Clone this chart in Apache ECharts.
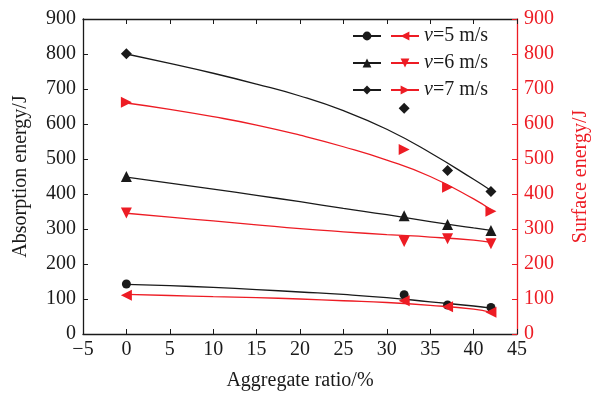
<!DOCTYPE html>
<html>
<head>
<meta charset="utf-8">
<script src="https://cdn.jsdelivr.net/npm/echarts@6/dist/echarts.min.js"></script>
<style>html,body{margin:0;padding:0;background:#fff}#c{width:599px;height:396px}</style>
</head>
<body>
<div id="c"></div>
<script>
// Measured points (aggregate ratio, %)
const xMarkers = [0, 32, 37, 42];
const absV5 = [143, 112, 83, 76];
const absV6 = [450, 338, 313, 296];
const absV7 = [801, 645, 467, 407];
const surfV5 = [111, 95, 78, 62];
const surfV6 = [346, 264, 272, 258];
const surfV7 = [662, 527, 419, 351];

// Fitted curves
const xFit = [0, 5, 10, 15, 20, 25, 30, 35, 40, 42];
const absFitV5 = [142, 138, 133, 127, 120, 113, 104, 92, 80, 74];
const absFitV6 = [448, 431, 414, 396, 378, 359, 341, 321, 303, 296];
const absFitV7 = [800, 773, 745, 714, 680, 638, 585, 518, 442, 410];
const surfFitV5 = [113, 110, 107, 104, 100, 95, 90, 82, 71, 62];
const surfFitV6 = [345, 334, 323, 312, 301, 292, 284, 277, 268, 262];
const surfFitV7 = [660, 642, 621, 597, 568, 535, 497, 450, 386, 355];

const speedLabels = ['5', '6', '7'];
const xTicks = {min: -5, max: 45, interval: 5};
const yTicks = {min: 0, max: 900, interval: 100};

const BLACK = '#1a1a1a';
const RED = '#ed1c24';
const FONT = '"Liberation Serif", "DejaVu Serif", serif';

const zip = (xs, ys) => xs.map((x, i) => [x, ys[i]]);

const symbolsAbs = [
  {symbol: 'circle', size: 9, rotate: 0},
  {symbol: 'triangle', size: 11, rotate: 0},
  {symbol: 'diamond', size: [11, 11], rotate: 0}
];
const symbolsSurf = [
  {symbol: 'triangle', size: 11, rotate: 90},
  {symbol: 'triangle', size: 11, rotate: 180},
  {symbol: 'triangle', size: 11, rotate: -90}
];

const absFits = [absFitV5, absFitV6, absFitV7];
const surfFits = [surfFitV5, surfFitV6, surfFitV7];
const absPts = [absV5, absV6, absV7];
const surfPts = [surfV5, surfV6, surfV7];

const series = [];
for (let i = 0; i < 3; i++) {
  series.push({
    name: 'abs' + speedLabels[i], type: 'line', xAxisIndex: 0, yAxisIndex: 0,
    data: zip(xFit, absFits[i]), smooth: 0.5, showSymbol: false,
    symbol: symbolsAbs[i].symbol, symbolRotate: symbolsAbs[i].rotate,
    lineStyle: {color: BLACK, width: 1.3}, itemStyle: {color: BLACK},
    silent: true, z: 2
  });
  series.push({
    name: 'surf' + speedLabels[i], type: 'line', xAxisIndex: 0, yAxisIndex: 1,
    data: zip(xFit, surfFits[i]), smooth: 0.5, showSymbol: false,
    symbol: symbolsSurf[i].symbol, symbolRotate: symbolsSurf[i].rotate,
    lineStyle: {color: RED, width: 1.3}, itemStyle: {color: RED},
    silent: true, z: 2
  });
  series.push({
    type: 'scatter', xAxisIndex: 0, yAxisIndex: 0,
    data: zip(xMarkers, absPts[i]),
    symbol: symbolsAbs[i].symbol, symbolSize: symbolsAbs[i].size, symbolRotate: symbolsAbs[i].rotate,
    itemStyle: {color: BLACK, opacity: 1}, silent: true, z: 3
  });
  series.push({
    type: 'scatter', xAxisIndex: 0, yAxisIndex: 1,
    data: zip(xMarkers, surfPts[i]),
    symbol: symbolsSurf[i].symbol, symbolSize: symbolsSurf[i].size, symbolRotate: symbolsSurf[i].rotate,
    itemStyle: {color: RED, opacity: 1}, silent: true, z: 3
  });
}

const legendText = {fontFamily: FONT, fontSize: 20, color: BLACK, lineHeight: 20,
  rich: {i: {fontFamily: FONT, fontSize: 20, fontStyle: 'italic', color: BLACK, lineHeight: 20},
         n: {fontFamily: FONT, fontSize: 20, color: BLACK, lineHeight: 20}}};

const option = {
  animation: false,
  backgroundColor: '#fff',
  grid: {left: 83, right: 77, top: 19, bottom: 59, containLabel: false},
  legend: [
    {
      data: speedLabels.map(s => 'abs' + s),
      orient: 'vertical', left: 347, top: 21,
      itemWidth: 28, itemHeight: 11, itemGap: 7,
      formatter: () => ' ', textStyle: legendText,
      selectedMode: false
    },
    {
      data: speedLabels.map(s => 'surf' + s),
      orient: 'vertical', left: 385, top: 21,
      itemWidth: 28, itemHeight: 11, itemGap: 7,
      formatter: name => '{i|v}{n|=' + name.replace('surf', '') + ' m/s}',
      textStyle: legendText,
      selectedMode: false
    }
  ],
  xAxis: [
    {
      type: 'value', position: 'bottom', min: xTicks.min, max: xTicks.max, interval: xTicks.interval,
      name: 'Aggregate ratio/%', nameLocation: 'middle', nameGap: 37,
      nameTextStyle: {fontFamily: FONT, fontSize: 20, color: BLACK},
      axisLine: {onZero: false, lineStyle: {color: BLACK, width: 1.3}},
      axisTick: {inside: true, length: 5, lineStyle: {color: BLACK}},
      axisLabel: {fontFamily: FONT, fontSize: 20, color: BLACK, margin: 6,
        formatter: v => v < 0 ? '\u2212' + Math.abs(v) : String(v)},
      splitLine: {show: false}
    },
    {
      type: 'value', position: 'top', min: xTicks.min, max: xTicks.max, interval: xTicks.interval,
      axisLine: {onZero: false, lineStyle: {color: BLACK, width: 1.3}},
      axisTick: {inside: true, length: 5, lineStyle: {color: BLACK}},
      axisLabel: {show: false}, splitLine: {show: false}
    }
  ],
  yAxis: [
    {
      type: 'value', position: 'left', min: yTicks.min, max: yTicks.max, interval: yTicks.interval,
      name: 'Absorption energy/J', nameLocation: 'middle', nameGap: 52, nameRotate: 90,
      nameTextStyle: {fontFamily: FONT, fontSize: 20, color: BLACK},
      axisLine: {show: true, onZero: false, lineStyle: {color: BLACK, width: 1.3}},
      axisTick: {show: true, inside: true, length: 5, lineStyle: {color: BLACK}},
      axisLabel: {fontFamily: FONT, fontSize: 20, color: BLACK, margin: 7},
      splitLine: {show: false}
    },
    {
      type: 'value', position: 'right', min: yTicks.min, max: yTicks.max, interval: yTicks.interval,
      name: 'Surface energy/J', nameLocation: 'middle', nameGap: 54, nameRotate: 90,
      nameTextStyle: {fontFamily: FONT, fontSize: 20, color: RED},
      axisLine: {show: true, onZero: false, lineStyle: {color: RED, width: 1.3}},
      axisTick: {show: true, inside: true, length: 5, lineStyle: {color: RED}},
      axisLabel: {fontFamily: FONT, fontSize: 20, color: RED, margin: 7},
      splitLine: {show: false}
    }
  ],
  series: series
};

const chart = echarts.init(document.getElementById('c'), null, {renderer: 'canvas'});
chart.setOption(option);
</script>
</body>
</html>
